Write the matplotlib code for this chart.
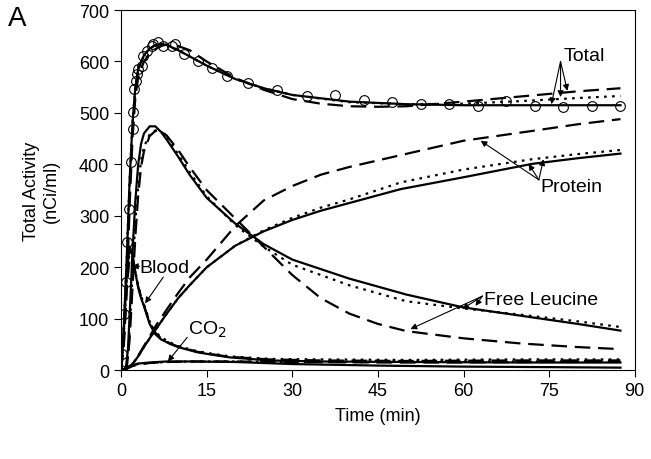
import matplotlib
matplotlib.use("Agg")
import matplotlib.pyplot as plt

plt.rcParams["font.family"] = ["Liberation Sans", "DejaVu Sans"]

# observed total activity (circles)
obs_t = [0, 0.2, 0.5, 0.9, 1.1, 1.4, 1.7, 2.0, 2.1, 2.3, 2.6, 2.8, 3.0, 3.7, 3.9,
         4.6, 5.4, 5.6, 6.5, 7.3, 8.9, 9.5, 11, 13.5, 16, 18.6, 22.3, 27.4, 32.5,
         37.4, 42.5, 47.4, 52.5, 57.4, 62.5, 67.4, 72.5, 77.4, 82.5, 87.4]
obs_y = [0, 31, 109, 171, 249, 313, 405, 469, 502, 547, 562, 576, 586, 591, 611,
         620, 630, 634, 638, 630, 630, 634, 615, 601, 588, 572, 558, 545, 533,
         535, 525, 521, 517, 517, 513, 523, 514, 512, 514, 514]

# model curves: solid, dotted, dashed
tot_t = [0, 0.5, 1, 1.5, 2, 2.5, 3, 4, 5, 6, 7, 8, 10, 12, 15, 20, 25, 30, 40,
         50, 60, 70, 80, 87.5]
tot_solid = [0, 90, 220, 370, 480, 550, 585, 612, 625, 632, 634, 632, 622, 610,
             592, 566, 548, 535, 522, 517, 515, 515, 515, 515]
tot_dot = [0, 90, 220, 370, 480, 550, 585, 612, 625, 632, 634, 632, 622, 610,
           592, 566, 548, 535, 521, 517, 518, 523, 529, 533]
totd_t = [0, 0.5, 1, 1.5, 2, 2.5, 3, 4, 5, 6, 7, 8, 10, 12, 15, 20, 25, 30, 35,
          40, 45, 50, 60, 70, 80, 87.5]
tot_dash = [0, 50, 160, 320, 450, 530, 570, 600, 615, 624, 630, 633, 630, 622,
            600, 568, 545, 527, 518, 513, 512, 513, 522, 532, 542, 548]

leu_t = [0, 0.8, 1.2, 1.6, 2, 2.5, 3, 3.5, 4, 5, 6, 7, 8, 10, 12, 15, 20, 25,
         30, 40, 50, 60, 70, 80, 87.5]
leu_solid = [0, 0, 40, 130, 230, 330, 400, 440, 460, 474, 474, 463, 448, 415,
             380, 335, 285, 245, 215, 178, 147, 122, 106, 90, 77]
leu_dot = [0, 0, 25, 100, 190, 290, 360, 408, 434, 458, 466, 464, 454, 420,
           385, 338, 282, 240, 205, 165, 134, 120, 108, 95, 84]
leud_t = [0, 1, 1.5, 2, 2.5, 3, 3.5, 4, 5, 6, 7, 8, 10, 12, 15, 20, 25, 30, 35,
          40, 45, 50, 60, 70, 80, 87.5]
leu_dash = [0, 5, 60, 160, 260, 340, 395, 425, 455, 465, 465, 456, 428, 395,
            350, 295, 240, 185, 140, 110, 90, 76, 62, 52, 45, 41]

pro_t = [0, 1, 2, 3, 4, 5, 6, 8, 10, 12, 15, 20, 25, 30, 35, 40, 49, 60, 72,
         80, 87.5]
pro_solid = [0, 3, 12, 27, 45, 62, 78, 110, 140, 165, 200, 242, 270, 292, 310,
             325, 352, 375, 401, 412, 421]
pro_dot = [0, 3, 12, 27, 45, 62, 78, 110, 140, 165, 200, 242, 272, 296, 316,
           332, 365, 390, 410, 420, 428]
pro_dash = [0, 3, 12, 28, 47, 65, 85, 118, 150, 180, 215, 280, 330, 358, 380,
            395, 418, 446, 465, 478, 488]

bld_t = [0, 0.5, 1, 1.5, 2, 2.5, 3, 3.5, 4, 5, 6, 7, 8.6, 10, 13.3, 16, 19, 26,
         35, 50, 70, 87.5]
bld_solid = [0, 80, 190, 240, 225, 190, 160, 140, 125, 90, 70, 60, 51, 45, 35,
             30, 25, 19, 17, 16, 15, 15]
bld_dot = [0, 75, 180, 232, 222, 192, 165, 145, 128, 95, 75, 64, 54, 47, 37,
           32, 27, 22, 21, 20, 21, 21]
bld_dash = [0, 60, 160, 220, 218, 190, 163, 143, 126, 93, 73, 62, 52, 46, 36,
            31, 26, 21, 19, 18, 19, 19]

co2_t = [0, 1, 2, 3, 5, 8, 12, 20, 30, 45, 60, 75, 87.5]
co2_solid = [0, 5, 10, 13, 15, 17, 17, 16, 12, 9, 7, 6, 5]
co2_dot = [0, 4, 9, 12, 14, 16, 17, 17, 16, 16, 17, 17, 18]
co2_dash = [0, 3, 8, 11, 14, 16, 17, 17, 16, 15, 15, 16, 16]

fig = plt.figure(figsize=(6.51, 4.6), dpi=100)
ax = fig.add_axes([0.186, 0.193, 0.789, 0.783])

solid = dict(color="k", lw=1.6, ls="-")
dotted = dict(color="k", lw=1.6, ls=(0, (1.2, 2.4)))
dashed = dict(color="k", lw=1.6, ls=(0, (7, 3.5)))

for t, s, d, dd, td in ((tot_t, tot_solid, tot_dot, tot_dash, totd_t),
                        (leu_t, leu_solid, leu_dot, leu_dash, leud_t),
                        (pro_t, pro_solid, pro_dot, pro_dash, pro_t),
                        (bld_t, bld_solid, bld_dot, bld_dash, bld_t),
                        (co2_t, co2_solid, co2_dot, co2_dash, co2_t)):
    ax.plot(td, dd, **dashed)
    ax.plot(t, d, **dotted)
    ax.plot(t, s, **solid)

ax.plot(obs_t, obs_y, "o", ms=7, mfc="none", mec="k", mew=0.8)

arrow = dict(arrowstyle="-|>", color="k", lw=0.8, mutation_scale=9,
             shrinkA=0, shrinkB=0)
fs = 14
ax.text(77.6, 612, "Total", fontsize=fs, va="center", ha="left")
for xy in ((75.4, 517), (77.0, 531), (78.2, 543)):
    ax.annotate("", xy=xy, xytext=(77.0, 600), arrowprops=arrow)

ax.text(73.5, 358, "Protein", fontsize=fs, va="center", ha="left")
for xy in ((63.0, 446), (71.4, 401), (74.0, 410)):
    ax.annotate("", xy=xy, xytext=(73.2, 370), arrowprops=arrow)

ax.text(63.6, 138, "Free Leucine", fontsize=fs, va="center", ha="left")
for xy in ((50.7, 80), (59.8, 119), (62.1, 125)):
    ax.annotate("", xy=xy, xytext=(63.3, 144), arrowprops=arrow)

ax.text(3.2, 200, "Blood", fontsize=fs, va="center", ha="left")
ax.annotate("", xy=(1.9, 202), xytext=(3.2, 202), arrowprops=arrow)
ax.annotate("", xy=(4.2, 130), xytext=(7.4, 181), arrowprops=arrow)

ax.text(11.7, 80, "CO$_2$", fontsize=fs, va="center", ha="left")
ax.annotate("", xy=(8.2, 17), xytext=(11.6, 64), arrowprops=arrow)

ax.set_xlim(0, 90)
ax.set_ylim(0, 700)
ax.set_xticks(range(0, 91, 15))
ax.set_yticks(range(0, 701, 100))
ax.tick_params(direction="out", length=5, width=0.8, labelsize=13)
for sp in ax.spines.values():
    sp.set_linewidth(0.8)
ax.set_xlabel("Time (min)", fontsize=13, labelpad=6)
ax.set_ylabel("Total Activity\n(nCi/ml)", fontsize=13, labelpad=14)

fig.text(0.012, 0.958, "A", fontsize=20, va="center", ha="left")

fig.savefig("out.png", dpi=100)
